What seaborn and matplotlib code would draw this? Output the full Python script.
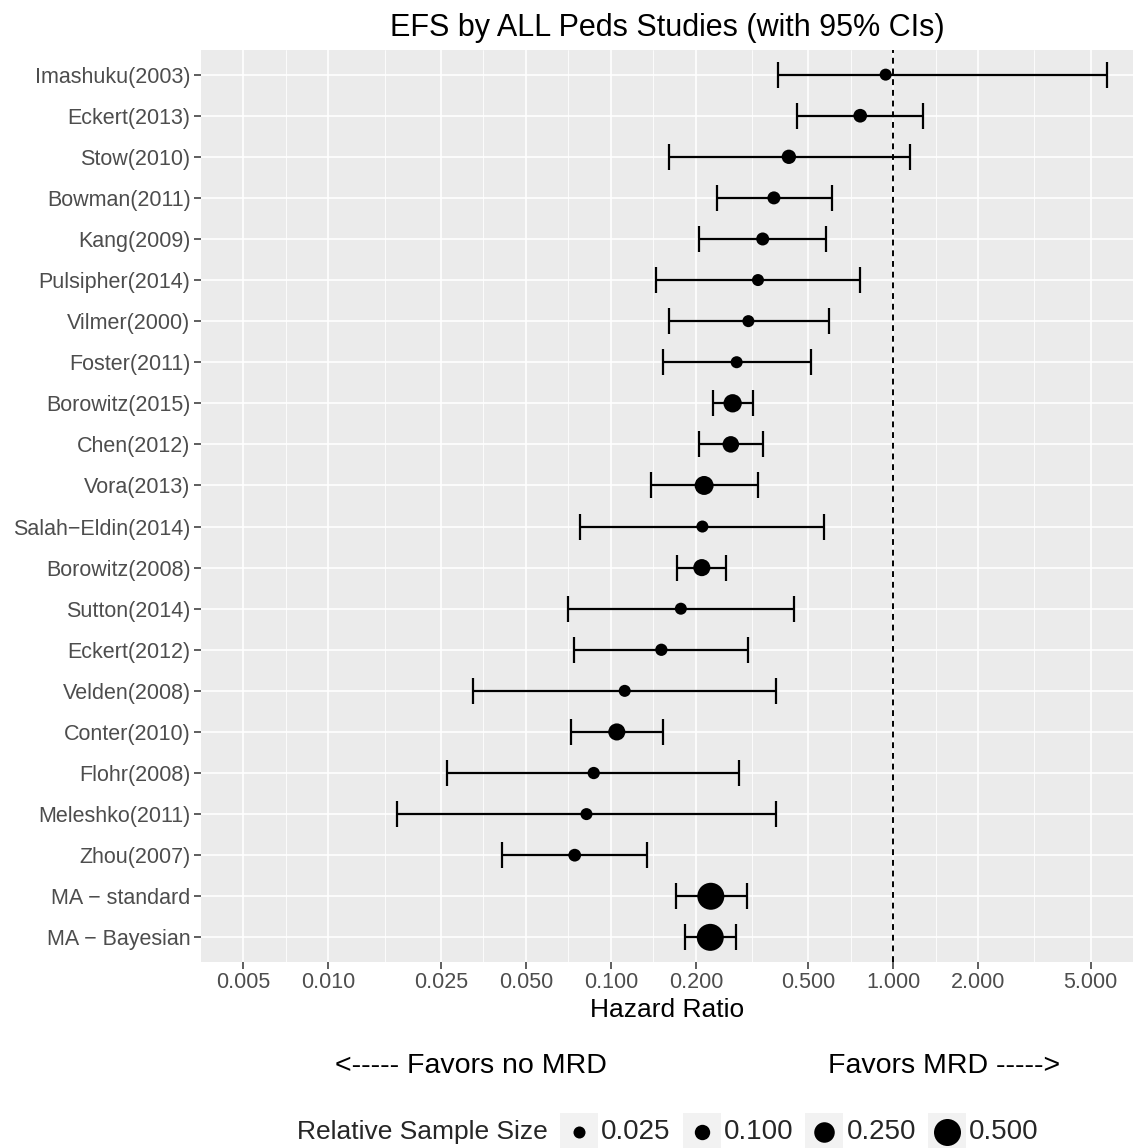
import numpy as np
import pandas as pd
import matplotlib
matplotlib.use("Agg")
import matplotlib.pyplot as plt
from matplotlib.patches import Rectangle
from matplotlib.ticker import NullFormatter
import seaborn as sns

# data (hazard ratios with 95% CIs)
studies = [
    "Imashuku(2003)", "Eckert(2013)", "Stow(2010)", "Bowman(2011)", "Kang(2009)",
    "Pulsipher(2014)", "Vilmer(2000)", "Foster(2011)", "Borowitz(2015)", "Chen(2012)",
    "Vora(2013)", "Salah\u2212Eldin(2014)", "Borowitz(2008)", "Sutton(2014)", "Eckert(2012)",
    "Velden(2008)", "Conter(2010)", "Flohr(2008)", "Meleshko(2011)", "Zhou(2007)",
    "MA \u2212 standard", "MA \u2212 Bayesian",
]
hazard_ratio = [0.94, 0.764, 0.427, 0.378, 0.345, 0.332, 0.307, 0.279, 0.270, 0.266,
                0.214, 0.211, 0.210, 0.177, 0.151, 0.112, 0.105, 0.087, 0.082, 0.0745,
                0.226, 0.225]
ci_lower = [0.390, 0.457, 0.161, 0.237, 0.206, 0.144, 0.161, 0.153, 0.231, 0.205,
            0.139, 0.078, 0.171, 0.0703, 0.0741, 0.0325, 0.0723, 0.0262, 0.0175, 0.0413,
            0.1695, 0.183]
ci_upper = [5.70, 1.277, 1.144, 0.606, 0.578, 0.764, 0.591, 0.510, 0.320, 0.346,
            0.331, 0.570, 0.256, 0.446, 0.307, 0.385, 0.1535, 0.2855, 0.384, 0.134,
            0.303, 0.277]
rel_size = [0.015, 0.06, 0.075, 0.045, 0.045, 0.02, 0.025, 0.025, 0.18, 0.13,
            0.2, 0.01, 0.145, 0.015, 0.03, 0.015, 0.145, 0.03, 0.025, 0.04,
            0.54, 0.54]

x_breaks = [0.005, 0.01, 0.025, 0.05, 0.1, 0.2, 0.5, 1, 2, 5]
x_break_labels = ["0.005", "0.010", "0.025", "0.050", "0.100", "0.200",
                  "0.500", "1.000", "2.000", "5.000"]
legend_sizes = [0.025, 0.1, 0.25, 0.5]
legend_labels = ["0.025", "0.100", "0.250", "0.500"]

SIZE_NORM = (0.025, 0.5)
SIZE_RANGE = (75, 378)


def marker_area(v):
    # same linear mapping seaborn uses for size -> marker area
    frac = (v - SIZE_NORM[0]) / (SIZE_NORM[1] - SIZE_NORM[0])
    return SIZE_RANGE[0] + frac * (SIZE_RANGE[1] - SIZE_RANGE[0])


sns.set_theme(style="darkgrid")
plt.rcParams["font.family"] = ["Liberation Sans", "DejaVu Sans"]

df = pd.DataFrame({
    "study": studies,
    "hr": hazard_ratio,
    "lo": ci_lower,
    "hi": ci_upper,
    "weight": rel_size,
})
df["pos"] = np.arange(len(df))

W, H = 1138, 1148
fig = plt.figure(figsize=(W / 100, H / 100), dpi=100)
ax = fig.add_axes([201 / W, 186 / H, 932 / W, 912 / H])
ax.set_facecolor("#EBEBEB")
ax.set_xscale("log")

ax.axvline(1, color="black", lw=1.4, ls=(0, (3, 2.5)), zorder=2.5)
ax.errorbar(df["hr"], df["pos"], xerr=[df["hr"] - df["lo"], df["hi"] - df["hr"]],
            fmt="none", ecolor="black", elinewidth=1.6, capsize=9.5, capthick=1.6,
            zorder=3)
sns.scatterplot(data=df, x="hr", y="pos", size="weight", sizes=SIZE_RANGE,
                size_norm=SIZE_NORM, color="black", linewidth=0, legend=False,
                ax=ax, zorder=4)

# log axis, limits (0.005, 5) with 5% expansion like ggplot
lo_lim, hi_lim = np.log10(x_breaks[0]), np.log10(x_breaks[-1])
pad = 0.05 * (hi_lim - lo_lim)
ax.set_xlim(10 ** (lo_lim - pad), 10 ** (hi_lim + pad))
ax.set_xticks(x_breaks, labels=x_break_labels)
minor = [np.sqrt(a * b) for a, b in zip(x_breaks[:-1], x_breaks[1:])]
ax.set_xticks(minor, minor=True)
ax.xaxis.set_minor_formatter(NullFormatter())

n = len(df)
ax.set_yticks(df["pos"], labels=df["study"])
ax.set_ylim(n - 1 + 0.6, -0.6)
ax.set_xlabel("")
ax.set_ylabel("")

ax.grid(which="major", color="white", lw=1.2)
ax.grid(which="minor", axis="x", color="white", lw=0.6)
ax.grid(which="minor", axis="y", visible=False)
ax.tick_params(axis="both", which="major", length=5, width=1.1, color="#333333",
               labelcolor="#4D4D4D", labelsize=15.5, pad=2.5, bottom=True, left=True)
ax.tick_params(which="minor", length=0)
for s in ax.spines.values():
    s.set_visible(False)

cx = (201 + 1133) / 2 / W
fig.text(cx, 1 - 28 / H, "EFS by ALL Peds Studies (with 95% CIs)", ha="center",
         va="center", fontsize=22, color="black")
fig.text(cx, 1 - 1010 / H, "Hazard Ratio", ha="center", va="center", fontsize=19,
         color="black")
fig.text(471 / W, 1 - 1066 / H, "<----- Favors no MRD", ha="center", va="center",
         fontsize=20.5, color="black")
fig.text(944 / W, 1 - 1066 / H, "Favors MRD ----->", ha="center", va="center",
         fontsize=20.5, color="black")

# size legend along the bottom
leg = fig.add_axes([0, 0, 1, 1])
leg.set_xlim(0, W)
leg.set_ylim(H, 0)
leg.axis("off")
leg.text(548, 1132, "Relative Sample Size", ha="right", va="center", fontsize=19)
for i, (v, lab) in enumerate(zip(legend_sizes, legend_labels)):
    kx = 579 + i * 122.7
    leg.add_patch(Rectangle((kx - 19, 1113), 38, 38, color="#F2F2F2", lw=0))
    leg.scatter([kx], [1132], s=marker_area(v), color="black", lw=0)
    leg.text(kx + 22, 1132, lab, ha="left", va="center", fontsize=20)

fig.savefig("out.png", dpi=100)
